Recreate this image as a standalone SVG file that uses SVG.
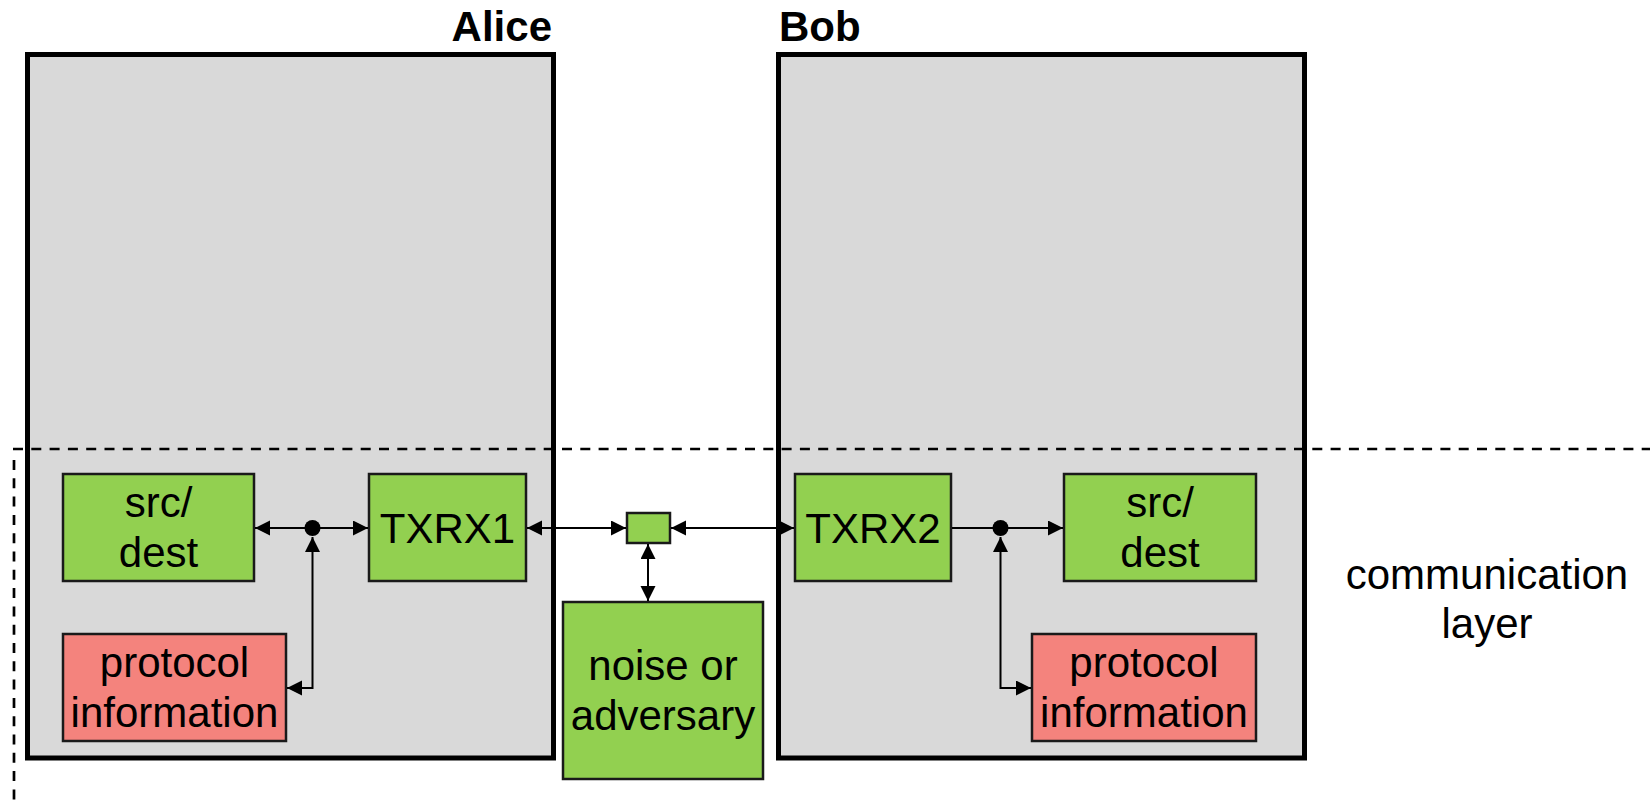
<svg xmlns="http://www.w3.org/2000/svg" width="1650" height="803" viewBox="0 0 1650 803">
  <style>
    .party { fill: #D9D9D9; stroke: #000; stroke-width: 5; }
    .green { fill: #92D050; stroke: #1a1a1a; stroke-width: 2.5; }
    .red { fill: #F4837D; stroke: #1a1a1a; stroke-width: 2.5; }
    .lbl { font-family: "Liberation Sans", Arial, sans-serif; font-size: 42px; fill: #000; text-anchor: middle; }
    .title { font-family: "Liberation Sans", Arial, sans-serif; font-size: 42px; font-weight: bold; fill: #000; }
    .wire { fill: none; stroke: #000; stroke-width: 2; }
    .layer { fill: none; stroke: #000; stroke-width: 2.7; stroke-dasharray: 10 8.3; }
  </style>
  <defs>
    <marker id="arrow" markerUnits="userSpaceOnUse" markerWidth="16" markerHeight="16" refX="15" refY="7.5" orient="auto-start-reverse">
      <path d="M0,0 L15,7.5 L0,15 z" fill="#000"/>
    </marker>
  </defs>

  <!-- parties -->
  <g id="alice">
    <rect class="party" x="27.5" y="54.5" width="526" height="703.5"/>
    <text class="title" x="552" y="41" text-anchor="end">Alice</text>
  </g>
  <g id="bob">
    <rect class="party" x="778.5" y="54.5" width="526" height="703.5"/>
    <text class="title" x="779" y="41">Bob</text>
  </g>

  <!-- communication layer boundary -->
  <g id="comm-layer">
    <path class="layer" d="M13,449 L1650,449"/>
    <path class="layer" d="M14,460 L14,803"/>
    <text class="lbl" x="1487" y="589">communication</text>
    <text class="lbl" x="1487" y="638">layer</text>
  </g>

  <!-- Alice's components -->
  <g id="alice-srcdest">
    <rect class="green" x="63" y="474" width="191" height="107"/>
    <text class="lbl" x="158.5" y="517">src/</text>
    <text class="lbl" x="158.5" y="567">dest</text>
  </g>
  <g id="txrx1">
    <rect class="green" x="369" y="474" width="157" height="107"/>
    <text class="lbl" x="447.5" y="543">TXRX1</text>
  </g>
  <g id="alice-protocol">
    <rect class="red" x="63" y="634" width="223" height="107"/>
    <text class="lbl" x="174.5" y="677">protocol</text>
    <text class="lbl" x="174.5" y="727">information</text>
  </g>

  <!-- channel -->
  <g id="channel">
    <rect class="green" x="627" y="513" width="43" height="30"/>
  </g>
  <g id="noise">
    <rect class="green" x="563" y="602" width="200" height="177"/>
    <text class="lbl" x="663" y="680">noise or</text>
    <text class="lbl" x="663" y="730">adversary</text>
  </g>

  <!-- Bob's components -->
  <g id="txrx2">
    <rect class="green" x="795" y="474" width="156" height="107"/>
    <text class="lbl" x="873" y="543">TXRX2</text>
  </g>
  <g id="bob-srcdest">
    <rect class="green" x="1064" y="474" width="192" height="107"/>
    <text class="lbl" x="1160" y="517">src/</text>
    <text class="lbl" x="1160" y="567">dest</text>
  </g>
  <g id="bob-protocol">
    <rect class="red" x="1032" y="634" width="224" height="107"/>
    <text class="lbl" x="1144" y="677">protocol</text>
    <text class="lbl" x="1144" y="727">information</text>
  </g>

  <!-- connectors -->
  <g id="connectors">
    <circle cx="312.5" cy="528" r="8" fill="#000"/>
    <path class="wire" d="M312.5,528 L255,528" marker-end="url(#arrow)"/>
    <path class="wire" d="M312.5,528 L368,528" marker-end="url(#arrow)"/>
    <path class="wire" d="M312.5,537 L312.5,688 L287,688" marker-start="url(#arrow)" marker-end="url(#arrow)"/>

    <path class="wire" d="M527,528 L626,528" marker-start="url(#arrow)" marker-end="url(#arrow)"/>
    <path class="wire" d="M671,528 L794,528" marker-start="url(#arrow)" marker-end="url(#arrow)"/>
    <path class="wire" d="M648,544 L648,601" marker-start="url(#arrow)" marker-end="url(#arrow)"/>

    <circle cx="1000.5" cy="528" r="8" fill="#000"/>
    <path class="wire" d="M952,528 L1000.5,528"/>
    <path class="wire" d="M1000.5,528 L1063,528" marker-end="url(#arrow)"/>
    <path class="wire" d="M1000.5,537 L1000.5,688 L1031,688" marker-start="url(#arrow)" marker-end="url(#arrow)"/>
  </g>
</svg>
